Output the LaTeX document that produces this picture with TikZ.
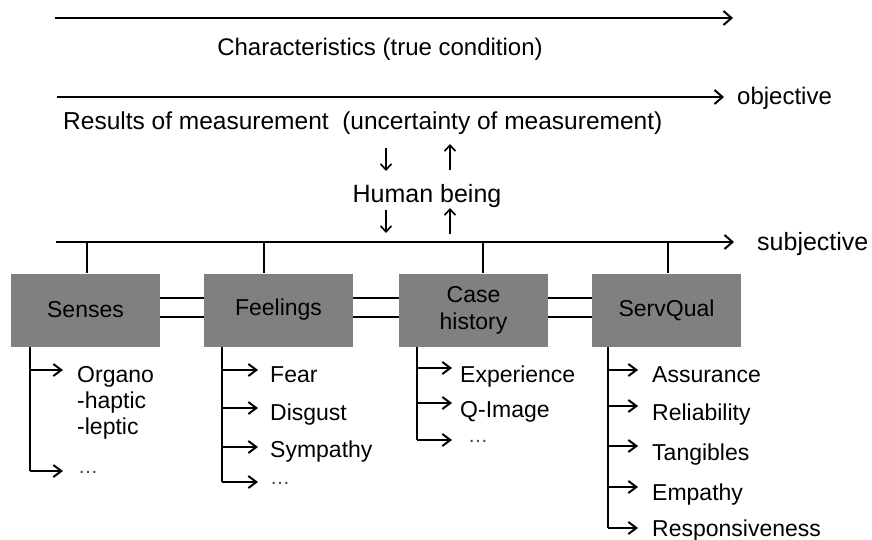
\documentclass[tikz,border=0pt]{standalone}
\usepackage{fontspec}
\setmainfont{Liberation Sans}
\usetikzlibrary{arrows.meta}
\definecolor{boxgray}{HTML}{808080}
\begin{document}
\begin{tikzpicture}[x=1pt,y=-1pt,
  line/.style={line width=1.8pt},
  arr/.style={line width=1.8pt,-{Straight Barb[length=8pt,width=14pt,line width=2pt]}},
  barr/.style={line width=1.8pt,-{Straight Barb[length=8pt,width=12pt,line width=2pt]}},
  harr/.style={line width=1.5pt,-{Straight Barb[length=6pt,width=11pt,line width=1.6pt]}},
  box/.style={fill=boxgray,minimum width=149pt,minimum height=73pt,inner sep=0pt,
    font=\fontsize{23}{28}\selectfont,align=center},
  lbl/.style={anchor=base west,inner sep=0pt,font=\fontsize{23}{27}\selectfont},
  toplbl/.style={inner sep=0pt,font=\fontsize{24}{28}\selectfont},
  dots/.style={anchor=base west,inner sep=0pt,font=\fontsize{20}{24}\selectfont,text=black!75}
]
\useasboundingbox (0,0) rectangle (872,540);

% top arrows and labels
\coordinate (a1s) at (55,18);  \coordinate (a1e) at (733,18);
\draw[arr] (a1s) -- (a1e);
\node[toplbl] (charact) at (380,49) {Characteristics (true condition)};

\coordinate (a2s) at (57,97);  \coordinate (a2e) at (724,97);
\draw[arr] (a2s) -- (a2e);
\node[toplbl,anchor=west] (obj) at (737,98) {objective};
\node[toplbl,anchor=west,font=\fontsize{24.5}{28}\selectfont] (results) at (63,123)
  {Results of measurement\ \ (uncertainty of measurement)};

% human being
\node[anchor=base,inner sep=0pt,font=\fontsize{25}{29}\selectfont] (human) at (427,202) {Human being};
\coordinate (d1a) at (386,148); \coordinate (d1b) at (386,171);
\coordinate (u1a) at (450,170); \coordinate (u1b) at (450,144);
\coordinate (d2a) at (386,210); \coordinate (d2b) at (386,233);
\coordinate (u2a) at (450,234); \coordinate (u2b) at (450,208);
\draw[harr] (d1a) -- (d1b);
\draw[harr] (u1a) -- (u1b);
\draw[harr] (d2a) -- (d2b);
\draw[harr] (u2a) -- (u2b);

% subjective line
\coordinate (ss) at (56,242); \coordinate (se) at (734,242);
\draw[arr] (ss) -- (se);
\node[anchor=base west,inner sep=0pt,font=\fontsize{25}{29}\selectfont] (subj) at (757,250) {subjective};

% boxes
\node[box] (senses)   at (85.5,310)  {Senses};
\node[box] (feelings) at (278.5,310) {Feelings};
\node[box] (case)     at (473.5,310) {Case\\[-1pt]history};
\node[box] (servqual) at (666.5,310) {ServQual};

% ticks
\coordinate (t1) at (87,242);  \coordinate (t2) at (264,242);
\coordinate (t3) at (483,242); \coordinate (t4) at (668,242);
\draw[line] (t1) -- (t1 |- senses.north);
\draw[line] (t2) -- (t2 |- feelings.north);
\draw[line] (t3) -- (t3 |- case.north);
\draw[line] (t4) -- (t4 |- servqual.north);

% double connectors
\foreach \a/\b in {senses/feelings,feelings/case,case/servqual}{
  \draw[line] ([yshift=12pt]\a.east) -- ([yshift=12pt]\b.west);
  \draw[line] ([yshift=-7pt]\a.east) -- ([yshift=-7pt]\b.west);
}

% Senses list
\draw[line] (senses.south -| 30,0) -- (30,471);
\draw[barr] (30,370) -- (63,370);
\draw[barr] (30,471) -- (63,471);
\node[lbl] (organo) at (77,382) {Organo};
\node[lbl] (haptic) at (77,408) {-haptic};
\node[lbl] (leptic) at (77,434) {-leptic};
\node[dots] (sdots) at (78,473) {…};

% Feelings list
\draw[line] (feelings.south -| 222,0) -- (222,482);
\foreach \y in {370,408,447,482}{ \draw[barr] (222,\y) -- (258,\y); }
\node[lbl] (fear) at (270,382) {Fear};
\node[lbl] (disgust) at (270,420) {Disgust};
\node[lbl] (sympathy) at (270,457) {Sympathy};
\node[dots] (fdots) at (270,484) {…};

% Case history list
\draw[line] (case.south -| 417,0) -- (417,440);
\foreach \y in {368,403,440}{ \draw[barr] (417,\y) -- (452,\y); }
\node[lbl] (experience) at (460,382) {Experience};
\node[lbl] (qimage) at (460,417) {Q-Image};
\node[dots] (cdots) at (468,442) {…};

% ServQual list
\draw[line] (servqual.south -| 608,0) -- (608,528);
\foreach \y in {370,406,446,487,528}{ \draw[barr] (608,\y) -- (638,\y); }
\node[lbl] (assurance) at (652,382) {Assurance};
\node[lbl] (reliability) at (652,420) {Reliability};
\node[lbl] (tangibles) at (652,460) {Tangibles};
\node[lbl] (empathy) at (652,500) {Empathy};
\node[lbl] (respons) at (652,536) {Responsiveness};
\end{tikzpicture}
\end{document}
